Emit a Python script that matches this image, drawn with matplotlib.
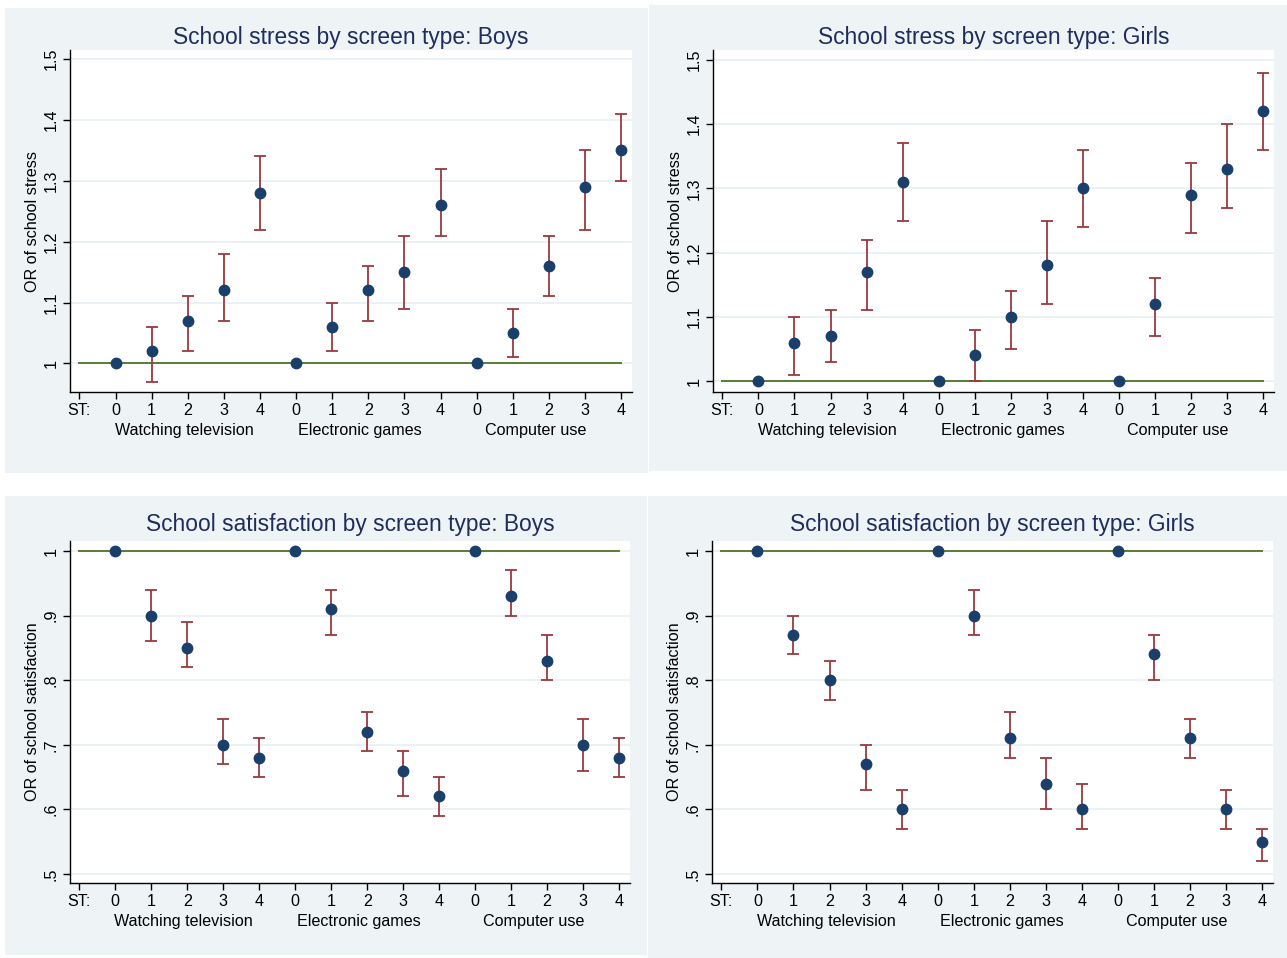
import numpy as np
import matplotlib
matplotlib.use("Agg")
import matplotlib.pyplot as plt
from matplotlib.patches import Rectangle

plt.rcParams['font.family'] = ['Liberation Sans', 'DejaVu Sans']

# Data: odds ratios and 95% CI, 5 screen-time levels per screen type
groups = ["Watching television", "Electronic games", "Computer use"]
levels = ["0", "1", "2", "3", "4"]

stress_boys = [1.00, 1.02, 1.07, 1.12, 1.28,
               1.00, 1.06, 1.12, 1.15, 1.26,
               1.00, 1.05, 1.16, 1.29, 1.35]
stress_boys_lo = [1.00, 0.97, 1.02, 1.07, 1.22,
                  1.00, 1.02, 1.07, 1.09, 1.21,
                  1.00, 1.01, 1.11, 1.22, 1.30]
stress_boys_hi = [1.00, 1.06, 1.11, 1.18, 1.34,
                  1.00, 1.10, 1.16, 1.21, 1.32,
                  1.00, 1.09, 1.21, 1.35, 1.41]

stress_girls = [1.00, 1.06, 1.07, 1.17, 1.31,
                1.00, 1.04, 1.10, 1.18, 1.30,
                1.00, 1.12, 1.29, 1.33, 1.42]
stress_girls_lo = [1.00, 1.01, 1.03, 1.11, 1.25,
                   1.00, 1.00, 1.05, 1.12, 1.24,
                   1.00, 1.07, 1.23, 1.27, 1.36]
stress_girls_hi = [1.00, 1.10, 1.11, 1.22, 1.37,
                   1.00, 1.08, 1.14, 1.25, 1.36,
                   1.00, 1.16, 1.34, 1.40, 1.48]

satis_boys = [1.00, 0.90, 0.85, 0.70, 0.68,
              1.00, 0.91, 0.72, 0.66, 0.62,
              1.00, 0.93, 0.83, 0.70, 0.68]
satis_boys_lo = [1.00, 0.86, 0.82, 0.67, 0.65,
                 1.00, 0.87, 0.69, 0.62, 0.59,
                 1.00, 0.90, 0.80, 0.66, 0.65]
satis_boys_hi = [1.00, 0.94, 0.89, 0.74, 0.71,
                 1.00, 0.94, 0.75, 0.69, 0.65,
                 1.00, 0.97, 0.87, 0.74, 0.71]

satis_girls = [1.00, 0.87, 0.80, 0.67, 0.60,
               1.00, 0.90, 0.71, 0.64, 0.60,
               1.00, 0.84, 0.71, 0.60, 0.55]
satis_girls_lo = [1.00, 0.84, 0.77, 0.63, 0.57,
                  1.00, 0.87, 0.68, 0.60, 0.57,
                  1.00, 0.80, 0.68, 0.57, 0.52]
satis_girls_hi = [1.00, 0.90, 0.83, 0.70, 0.63,
                  1.00, 0.94, 0.75, 0.68, 0.64,
                  1.00, 0.87, 0.74, 0.63, 0.57]

stress_ticks = [1.0, 1.1, 1.2, 1.3, 1.4, 1.5]
stress_ticklabels = ["1", "1.1", "1.2", "1.3", "1.4", "1.5"]
satis_ticks = [0.5, 0.6, 0.7, 0.8, 0.9, 1.0]
satis_ticklabels = [".5", ".6", ".7", ".8", ".9", "1"]

# where the group captions sit under the axis (layout, in x units)
GROUP_LABEL_X = [1.9, 6.77, 11.63]

# colours (Stata s2color look)
BG = '#eef3f6'
GRID = '#e8f0f3'
NAVY = '#1a3f6b'
MAROON = '#9b3a3f'
GREEN = '#5a7d34'
TITLE = '#1e2d5c'

W, H = 1287, 958
fig = plt.figure(figsize=(W / 100, H / 100), dpi=100, facecolor='white')

# panel backgrounds (pixels: x0, y0, x1, y1)
for x0, y0, x1, y1 in [(5, 8, 648, 473), (649, 5, 1287, 471),
                       (5, 496, 647, 955), (648, 496, 1287, 958)]:
    fig.patches.append(Rectangle((x0 / W, 1 - y1 / H), (x1 - x0) / W, (y1 - y0) / H,
                                 transform=fig.transFigure, facecolor=BG,
                                 edgecolor='none', zorder=-5))


def make_ax(l, t, r, b):
    return fig.add_axes([l / W, 1 - b / H, (r - l) / W, (b - t) / H])


panels = [
    (make_ax(70, 50, 632, 392), "School stress by screen type: Boys", "OR of school stress",
     stress_boys, stress_boys_lo, stress_boys_hi, stress_ticks, stress_ticklabels, (0.953, 1.515), 4),
    (make_ax(713, 50, 1274, 392), "School stress by screen type: Girls", "OR of school stress",
     stress_girls, stress_girls_lo, stress_girls_hi, stress_ticks, stress_ticklabels, (0.983, 1.5155), 4),
    (make_ax(70, 541, 630, 883), "School satisfaction by screen type: Boys", "OR of school satisfaction",
     satis_boys, satis_boys_lo, satis_boys_hi, satis_ticks, satis_ticklabels, (0.486, 1.0155), 7),
    (make_ax(712, 541, 1273, 883), "School satisfaction by screen type: Girls", "OR of school satisfaction",
     satis_girls, satis_girls_lo, satis_girls_hi, satis_ticks, satis_ticklabels, (0.486, 1.0155), 7),
]

x = np.arange(len(groups) * len(levels))

for ax, title, ylabel, est, lo, hi, yt, ytl, ylim, tpad in panels:
    est = np.array(est)
    lo = np.array(lo)
    hi = np.array(hi)
    ax.set_facecolor('white')
    for s in ['top', 'right']:
        ax.spines[s].set_visible(False)
    for s in ['left', 'bottom']:
        ax.spines[s].set_linewidth(1.0)
        ax.spines[s].set_color('black')

    ax.set_yticks(yt)
    ax.set_yticklabels(ytl, rotation=90, va='center')
    ax.yaxis.grid(True, color=GRID, linewidth=1.2)
    ax.set_axisbelow(True)

    ax.plot([-1, x[-1]], [1, 1], color=GREEN, linewidth=1.4, zorder=2)

    ci = est != lo
    ax.errorbar(x[ci], est[ci], yerr=[est[ci] - lo[ci], hi[ci] - est[ci]], fmt='none',
                ecolor=MAROON, elinewidth=1.3, capsize=4, capthick=1.3, zorder=3)
    ax.plot(x, est, 'o', color=NAVY, markersize=7.5, zorder=4)

    ax.set_xticks(np.concatenate([[-1], x]))
    ax.set_xticklabels(["ST:"] + levels * len(groups))
    ax.set_xlim(-1.26, 14.3)
    ax.set_ylim(*ylim)
    ax.tick_params(axis='both', labelsize=11.6, length=5, width=1, color='black', pad=3)

    for g, gx in zip(groups, GROUP_LABEL_X):
        ax.annotate(g, xy=(gx, 0), xycoords=('data', 'axes fraction'),
                    xytext=(0, -22), textcoords='offset points', ha='center', va='top',
                    fontsize=11.6)

    ax.set_title(title, fontsize=16.4, color=TITLE, pad=tpad)
    ax.set_ylabel(ylabel, fontsize=11.6, labelpad=3)

fig.savefig("out.png", dpi=100, facecolor='white')
